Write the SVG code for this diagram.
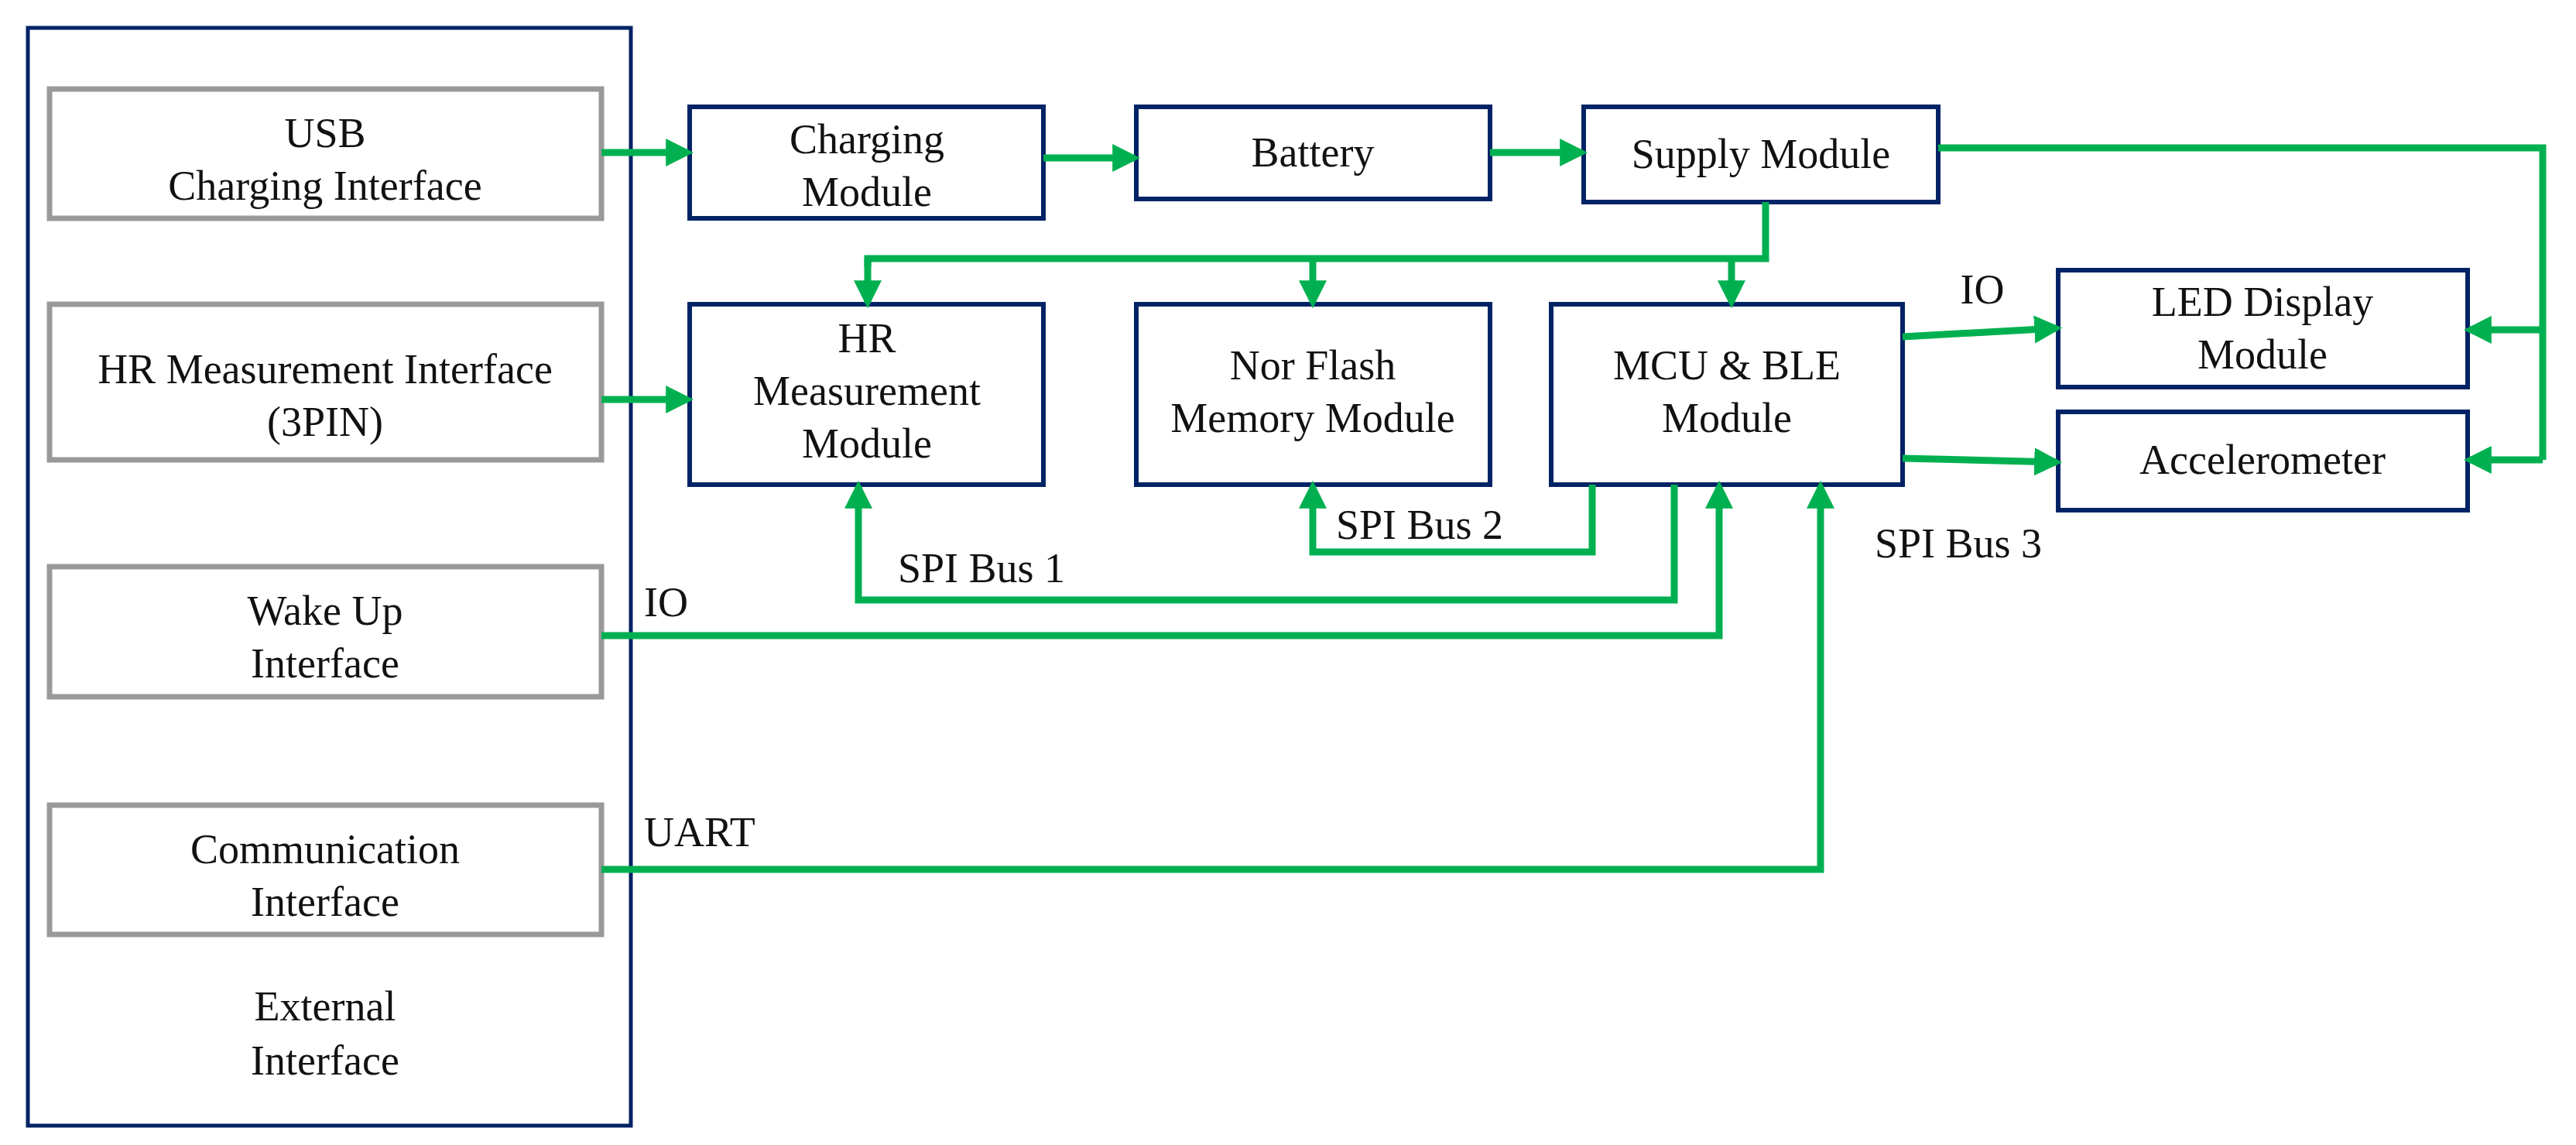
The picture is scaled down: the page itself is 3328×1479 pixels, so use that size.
<svg xmlns="http://www.w3.org/2000/svg" width="3328" height="1479" viewBox="0 0 3328 1479">
<style>
.blue{fill:#fff;stroke:#002366;stroke-width:6}
.gray{fill:#fff;stroke:#999;stroke-width:7}
.outer{fill:none;stroke:#002366;stroke-width:5}
text{font-family:"Liberation Serif",serif;font-size:54px;fill:#111;text-anchor:middle}
.l{text-anchor:start}
.c{fill:none;stroke:#00b050;stroke-width:9}
</style>
<defs>
<marker id="a" markerWidth="4" markerHeight="4" refX="3.2" refY="2" orient="auto" markerUnits="strokeWidth"><path d="M0,0L4,2L0,4Z" fill="#00b050"/></marker>
</defs>
<g id="external"><rect class="outer" x="36" y="36" width="779" height="1418"/><text x="420" y="1318">External</text><text x="420" y="1388">Interface</text></g>
<g id="usb"><rect class="gray" x="64" y="115" width="713" height="167"/><text x="420" y="190">USB</text><text x="420" y="258">Charging Interface</text></g>
<g id="hrif"><rect class="gray" x="64" y="393" width="713" height="201"/><text x="420" y="495">HR Measurement Interface</text><text x="420" y="563">(3PIN)</text></g>
<g id="wake"><rect class="gray" x="64" y="732" width="713" height="168"/><text x="420" y="807">Wake Up</text><text x="420" y="875">Interface</text></g>
<g id="comm"><rect class="gray" x="64" y="1040" width="713" height="167"/><text x="420" y="1115">Communication</text><text x="420" y="1183">Interface</text></g>
<g id="charging"><rect class="blue" x="891" y="138" width="457" height="144"/><text x="1120" y="198">Charging</text><text x="1120" y="266">Module</text></g>
<g id="battery"><rect class="blue" x="1468" y="138" width="457" height="119"/><text x="1696" y="215">Battery</text></g>
<g id="supply"><rect class="blue" x="2046" y="138" width="458" height="123"/><text x="2275" y="217">Supply Module</text></g>
<g id="hrmod"><rect class="blue" x="891" y="393" width="457" height="233"/><text x="1120" y="455">HR</text><text x="1120" y="523">Measurement</text><text x="1120" y="591">Module</text></g>
<g id="flash"><rect class="blue" x="1468" y="393" width="457" height="233"/><text x="1696" y="490">Nor Flash</text><text x="1696" y="558">Memory Module</text></g>
<g id="mcu"><rect class="blue" x="2004" y="393" width="454" height="233"/><text x="2231" y="490">MCU &amp; BLE</text><text x="2231" y="558">Module</text></g>
<g id="led"><rect class="blue" x="2659" y="349" width="529" height="151"/><text x="2923" y="408">LED Display</text><text x="2923" y="476">Module</text></g>
<g id="accel"><rect class="blue" x="2659" y="532" width="529" height="127"/><text x="2923" y="612">Accelerometer</text></g>
<g id="connectors">
<path class="c" marker-end="url(#a)" d="M777,197H889"/>
<path class="c" marker-end="url(#a)" d="M1348,204H1466"/>
<path class="c" marker-end="url(#a)" d="M1925,197H2044"/>
<path class="c" marker-end="url(#a)" d="M777,516H889"/>
<path class="c" d="M2504,191H3285V594"/>
<path class="c" marker-end="url(#a)" d="M3285,426H3190"/>
<path class="c" marker-end="url(#a)" d="M3285,594H3190"/>
<path class="c" d="M2281,261V334H1121V345"/>
<path class="c" marker-end="url(#a)" d="M1121,334V391"/>
<path class="c" marker-end="url(#a)" d="M1696,334V391"/>
<path class="c" marker-end="url(#a)" d="M2237,334V391"/>
<path class="c" marker-end="url(#a)" d="M2458,435L2657,424"/>
<path class="c" marker-end="url(#a)" d="M2458,592L2657,597"/>
<path class="c" marker-end="url(#a)" d="M2057,626V713H1696V628"/>
<path class="c" marker-end="url(#a)" d="M2163,626V775H1109V628"/>
<path class="c" marker-end="url(#a)" d="M777,821H2221V628"/>
<path class="c" marker-end="url(#a)" d="M777,1123H2352V628"/>
</g>
<g id="labels">
<text x="2561" y="392">IO</text>
<text x="2530" y="720">SPI Bus 3</text>
<text x="1834" y="696">SPI Bus 2</text>
<text x="1268" y="752">SPI Bus 1</text>
<text class="l" x="832" y="796">IO</text>
<text class="l" x="832" y="1093">UART</text>
</g>
</svg>
